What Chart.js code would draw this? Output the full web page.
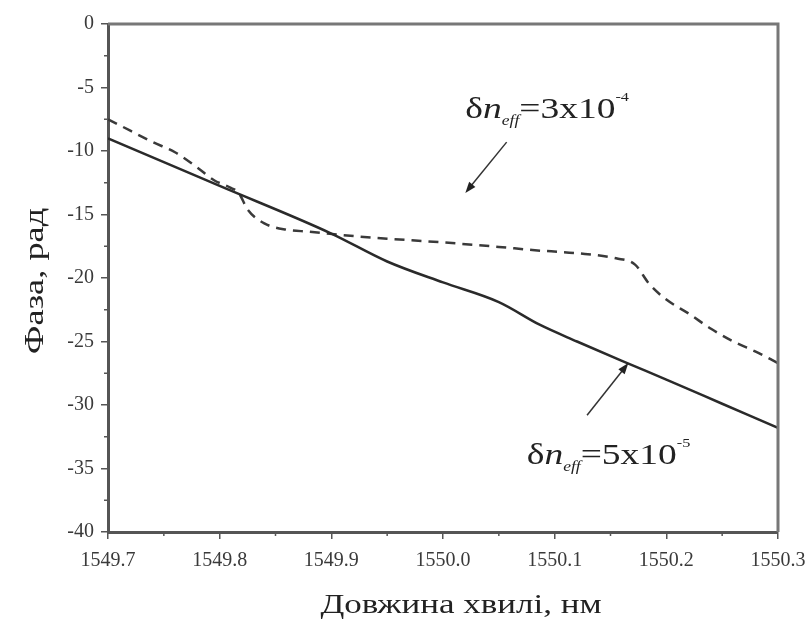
<!DOCTYPE html>
<html>
<head>
<meta charset="utf-8">
<script src="https://cdn.jsdelivr.net/npm/chart.js@4/dist/chart.umd.min.js"></script>
<style>
  html, body { margin: 0; padding: 0; background: #fff; }
  #wrap { width: 811px; height: 628px; position: relative; }
</style>
</head>
<body>
<div id="wrap"><canvas id="phaseChart"></canvas></div>
<script>
// wavelength (nm) and phase (rad)
const lowWavelength = [1549.70, 1549.80, 1549.90, 1549.95, 1550.00, 1550.05, 1550.087, 1550.12, 1550.165, 1550.20, 1550.25, 1550.30];
const lowPhase = [-9.0, -12.75, -16.5, -18.7, -20.35, -21.9, -23.7, -25.0, -26.7, -28.0, -29.9, -31.8];

const highWavelength = [1549.70, 1549.72, 1549.74, 1549.76, 1549.78, 1549.795, 1549.81, 1549.817, 1549.825, 1549.84, 1549.86, 1549.88,
  1549.92, 1549.95, 1550.00, 1550.05, 1550.08, 1550.12, 1550.155, 1550.172, 1550.185, 1550.20, 1550.22, 1550.24, 1550.26, 1550.28, 1550.30];
const highPhase = [-7.5, -8.4, -9.3, -10.1, -11.3, -12.3, -12.9, -13.3, -14.6, -15.7, -16.2, -16.35,
  -16.7, -16.9, -17.2, -17.55, -17.8, -18.05, -18.45, -18.95, -20.5, -21.7, -22.8, -24.0, -25.0, -25.8, -26.7];

const xTicks = [1549.7, 1549.8, 1549.9, 1550.0, 1550.1, 1550.2, 1550.3];
const yTicks = [0, -5, -10, -15, -20, -25, -30, -35, -40];

const xTitle = "Довжина хвилі, нм";
const yTitle = "Фаза, рад";

const serif = "'Liberation Serif', 'Times New Roman', serif";
const axisColor = "#555";

const toPoints = (xs, ys) => xs.map((x, i) => ({ x: x, y: ys[i] }));

// labels with arrows, in data coordinates
const notes = [
  { text: { x: 1550.020, y: -7.4 }, exp: "-4", mant: "3", from: { x: 1550.057, y: -9.3 }, to: { x: 1550.020, y: -13.3 } },
  { text: { x: 1550.075, y: -34.65 }, exp: "-5", mant: "5", from: { x: 1550.129, y: -30.8 }, to: { x: 1550.166, y: -26.7 } },
];

// the original lettering is wide, so stretch it a bit along the text direction
function drawParts(ctx, x, y, parts, stretch) {
  ctx.save();
  ctx.translate(x, y);
  ctx.scale(stretch, 1);
  let cx = 0;
  parts.forEach((p) => {
    ctx.font = p.font;
    ctx.fillText(p.t, cx, p.dy || 0);
    cx += ctx.measureText(p.t).width;
  });
  ctx.restore();
}

function drawArrow(ctx, x1, y1, x2, y2) {
  const ang = Math.atan2(y2 - y1, x2 - x1);
  const len = 11, half = 4;
  ctx.beginPath();
  ctx.moveTo(x1, y1);
  ctx.lineTo(x2 - Math.cos(ang) * len * 0.8, y2 - Math.sin(ang) * len * 0.8);
  ctx.stroke();
  ctx.beginPath();
  ctx.moveTo(x2, y2);
  ctx.lineTo(x2 - Math.cos(ang) * len + Math.sin(ang) * half, y2 - Math.sin(ang) * len - Math.cos(ang) * half);
  ctx.lineTo(x2 - Math.cos(ang) * len - Math.sin(ang) * half, y2 - Math.sin(ang) * len + Math.cos(ang) * half);
  ctx.closePath();
  ctx.fill();
}

const decorPlugin = {
  id: "decor",
  afterDraw(chart) {
    const { ctx, chartArea, scales } = chart;
    const xs = scales.x, ys = scales.y;
    ctx.save();

    // top and right frame
    ctx.strokeStyle = "#777";
    ctx.lineWidth = 3;
    ctx.beginPath();
    ctx.moveTo(chartArea.left, chartArea.top);
    ctx.lineTo(chartArea.right, chartArea.top);
    ctx.lineTo(chartArea.right, chartArea.bottom);
    ctx.stroke();

    // minor ticks
    ctx.strokeStyle = axisColor;
    ctx.lineWidth = 1.5;
    for (let i = 0; i < xTicks.length - 1; i++) {
      const px = xs.getPixelForValue((xTicks[i] + xTicks[i + 1]) / 2);
      ctx.beginPath();
      ctx.moveTo(px, chartArea.bottom);
      ctx.lineTo(px, chartArea.bottom + 4);
      ctx.stroke();
    }
    for (let i = 0; i < yTicks.length - 1; i++) {
      const py = ys.getPixelForValue((yTicks[i] + yTicks[i + 1]) / 2);
      ctx.beginPath();
      ctx.moveTo(chartArea.left, py);
      ctx.lineTo(chartArea.left - 4, py);
      ctx.stroke();
    }

    // annotations
    ctx.fillStyle = "#222";
    ctx.strokeStyle = "#333";
    ctx.lineWidth = 1.5;
    ctx.textBaseline = "alphabetic";
    ctx.textAlign = "left";
    notes.forEach((n) => {
      drawParts(ctx, xs.getPixelForValue(n.text.x), ys.getPixelForValue(n.text.y), [
        { t: "δ", font: "30px " + serif },
        { t: "n", font: "italic 30px " + serif },
        { t: "eff", font: "italic 14px " + serif, dy: 7 },
        { t: "=" + n.mant + "x10", font: "30px " + serif },
        { t: n.exp, font: "13px " + serif, dy: -17 },
      ], 1.25);
      drawArrow(ctx, xs.getPixelForValue(n.from.x), ys.getPixelForValue(n.from.y),
        xs.getPixelForValue(n.to.x), ys.getPixelForValue(n.to.y));
    });

    // axis titles
    ctx.fillStyle = "#222";
    ctx.font = "28px " + serif;
    ctx.textAlign = "center";
    ctx.save();
    ctx.translate(461, 613);
    ctx.scale(1.25, 1);
    ctx.fillText(xTitle, 0, 0);
    ctx.restore();
    ctx.save();
    ctx.translate(43, 281);
    ctx.rotate(-Math.PI / 2);
    ctx.scale(1.3, 1);
    ctx.fillText(yTitle, 0, 0);
    ctx.restore();

    ctx.restore();
  },
};

new Chart(document.getElementById("phaseChart"), {
  type: "line",
  data: {
    datasets: [
      {
        label: "δn_eff=5x10^-5",
        data: toPoints(lowWavelength, lowPhase),
        borderColor: "#2a2a2a",
        borderWidth: 2.5,
        pointRadius: 0,
        cubicInterpolationMode: "monotone",
      },
      {
        label: "δn_eff=3x10^-4",
        data: toPoints(highWavelength, highPhase),
        borderColor: "#3a3a3a",
        borderWidth: 2.5,
        borderDash: [10, 7],
        pointRadius: 0,
        cubicInterpolationMode: "monotone",
      },
    ],
  },
  options: {
    responsive: true,
    maintainAspectRatio: false,
    animation: false,
    layout: { padding: { left: 0, top: 24, right: 33, bottom: 0 } },
    plugins: {
      legend: { display: false },
      tooltip: { enabled: false },
    },
    scales: {
      x: {
        type: "linear",
        min: 1549.7,
        max: 1550.3,
        afterBuildTicks: (scale) => { scale.ticks = xTicks.map((v) => ({ value: v })); },
        afterFit: (scale) => {
          scale.height = 96;
          scale.paddingLeft = 0;
          scale.paddingRight = 0;
        },
        ticks: {
          callback: (v) => Number(v).toFixed(1),
          font: { family: serif, size: 20 },
          color: "#3a3a3a",
          padding: 10,
          maxRotation: 0,
          autoSkip: false,
        },
        grid: { drawOnChartArea: false, drawTicks: true, tickLength: 7, color: axisColor, lineWidth: 1.5 },
        border: { color: axisColor, width: 3 },
      },
      y: {
        min: -40,
        max: 0,
        afterBuildTicks: (scale) => { scale.ticks = yTicks.map((v) => ({ value: v })); },
        afterFit: (scale) => {
          scale.width = 108;
          scale.paddingTop = 0;
          scale.paddingBottom = 0;
        },
        ticks: {
          font: { family: serif, size: 20 },
          color: "#3a3a3a",
          padding: 7,
        },
        grid: { drawOnChartArea: false, drawTicks: true, tickLength: 7, color: axisColor, lineWidth: 1.5 },
        border: { color: axisColor, width: 3 },
      },
    },
  },
  plugins: [decorPlugin],
});
</script>
</body>
</html>
